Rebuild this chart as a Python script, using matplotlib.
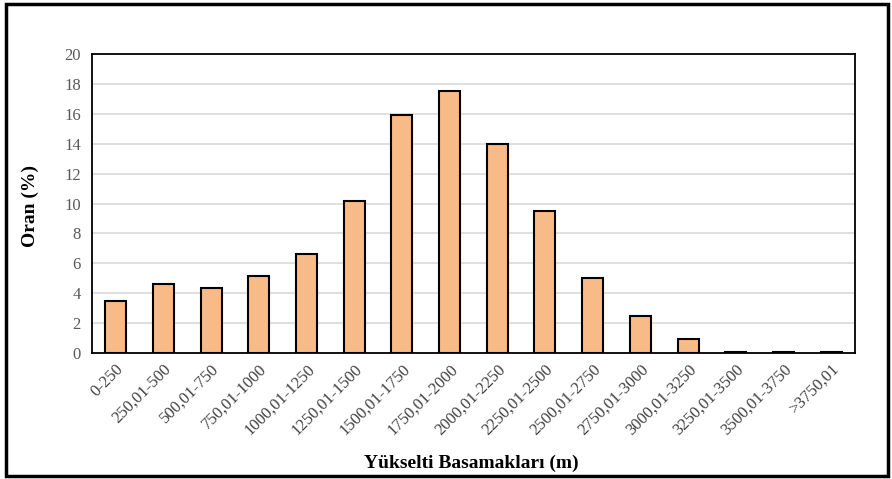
import matplotlib
matplotlib.use("Agg")
from matplotlib import pyplot as plt
from matplotlib.patches import Rectangle

# yükselti basamakları ve oranlar
kategoriler = ['0-250', '250,01-500', '500,01-750', '750,01-1000', '1000,01-1250',
               '1250,01-1500', '1500,01-1750', '1750,01-2000', '2000,01-2250',
               '2250,01-2500', '2500,01-2750', '2750,01-3000', '3000,01-3250',
               '3250,01-3500', '3500,01-3750', '>3750,01']
oranlar = [3.5, 4.6, 4.35, 5.15, 6.6, 10.2, 15.95, 17.5, 14.0, 9.5, 5.0, 2.5, 0.95, 0.1, 0.04, 0.04]
y_ticks = [0, 2, 4, 6, 8, 10, 12, 14, 16, 18, 20]

plt.rcParams['font.family'] = ['Liberation Serif', 'DejaVu Serif']

fig = plt.figure(figsize=(8.92, 4.79), dpi=100)
ax = fig.add_axes([0.103, 0.263, 0.8555, 0.624])

x = range(len(kategoriler))
ax.bar(x, oranlar, width=0.44, color='#F8BB87', edgecolor='black', linewidth=1.5, zorder=3)

ax.set_ylim(0, 20)
ax.set_xlim(-0.5, len(kategoriler) - 0.5)
ax.set_yticks(y_ticks)
ax.set_yticklabels([str(t) for t in y_ticks], color='#595959', fontsize=12)
ax.set_xticks(list(x))
ax.set_xticklabels(kategoriler, rotation=45, ha='right', rotation_mode='anchor',
                   color='#404040', fontsize=12)
ax.tick_params(axis='y', length=0, pad=8)
ax.tick_params(axis='x', length=0, pad=6)
ax.yaxis.grid(True, color='#d9d9d9', linewidth=1.2, zorder=0)
for s in ax.spines.values():
    s.set_color('black')
    s.set_linewidth(1.3)

fig.text(0.034, 0.57, 'Oran (%)', rotation=90, ha='center', va='center',
         fontsize=14, fontweight='bold')
fig.text(0.528, 0.033, 'Yükselti Basamakları (m)', ha='center', va='center',
         fontsize=14, fontweight='bold')

# dış çerçeve
fig.patches.append(Rectangle((0.007, 0.006), 0.988, 0.985, transform=fig.transFigure,
                             fill=False, edgecolor='black', linewidth=2.5))

plt.savefig('out.png', dpi=100)
